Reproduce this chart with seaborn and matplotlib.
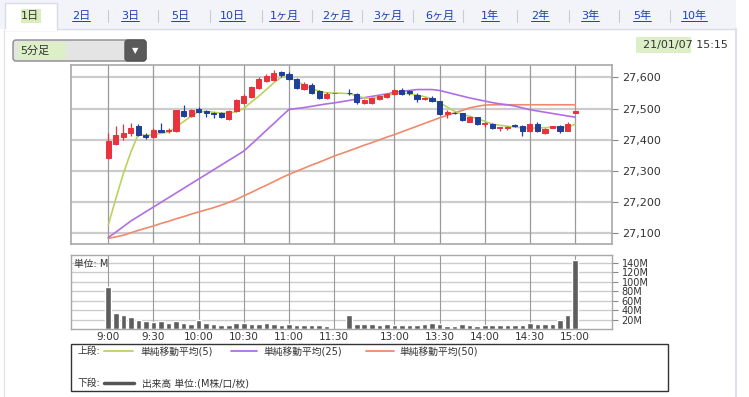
import numpy as np
import pandas as pd
import matplotlib
matplotlib.use("Agg")
import matplotlib.pyplot as plt
import seaborn as sns
from matplotlib.patches import Rectangle, FancyBboxPatch

# ---------------- data ----------------
times = ["9:00", "9:05", "9:10", "9:15", "9:20", "9:25", "9:30", "9:35", "9:40", "9:45",
         "9:50", "9:55", "10:00", "10:05", "10:10", "10:15", "10:20", "10:25", "10:30", "10:35",
         "10:40", "10:45", "10:50", "10:55", "11:00", "11:05", "11:10", "11:15", "11:20", "11:25",
         "11:30",
         "12:30", "12:35", "12:40", "12:45", "12:50", "12:55", "13:00", "13:05", "13:10", "13:15",
         "13:20", "13:25", "13:30", "13:35", "13:40", "13:45", "13:50", "13:55", "14:00", "14:05",
         "14:10", "14:15", "14:20", "14:25", "14:30", "14:35", "14:40", "14:45", "14:50", "14:55",
         "15:00"]

opens = [27341, 27387, 27409, 27422, 27443, 27416, 27408, 27431, 27427, 27429,
         27491, 27475, 27497, 27491, 27486, 27484, 27467, 27491, 27518, 27536,
         27567, 27590, 27593, 27617, 27612, 27596, 27564, 27575, 27556, 27534,
         27550,
         27551, 27547, 27518, 27518, 27531, 27536, 27547, 27561, 27556, 27545,
         27530, 27534, 27523, 27481, 27486, 27484, 27457, 27472, 27449, 27451,
         27437, 27437, 27446, 27443, 27427, 27449, 27422, 27438, 27443, 27429,
         27486]
highs = [27420, 27443, 27449, 27454, 27449, 27422, 27436, 27454, 27436, 27496,
         27510, 27500, 27505, 27496, 27490, 27490, 27496, 27530, 27547, 27572,
         27600, 27612, 27625, 27622, 27617, 27598, 27586, 27582, 27560, 27552,
         27550,
         27563, 27550, 27530, 27537, 27545, 27550, 27564, 27567, 27561, 27551,
         27536, 27540, 27525, 27495, 27490, 27486, 27476, 27474, 27458, 27454,
         27442, 27443, 27449, 27446, 27452, 27457, 27437, 27445, 27446, 27456,
         27493]
lows = [27338, 27384, 27400, 27411, 27410, 27403, 27405, 27424, 27420, 27424,
        27472, 27472, 27486, 27473, 27469, 27469, 27462, 27488, 27515, 27533,
        27564, 27584, 27588, 27602, 27592, 27563, 27558, 27548, 27530, 27532,
        27550,
        27545, 27515, 27515, 27513, 27528, 27533, 27545, 27545, 27543, 27521,
        27527, 27520, 27478, 27470, 27482, 27460, 27455, 27448, 27440, 27435,
        27428, 27432, 27440, 27413, 27424, 27423, 27419, 27436, 27420, 27427,
        27485]
closes = [27395, 27416, 27422, 27438, 27414, 27408, 27432, 27426, 27430, 27494,
          27475, 27495, 27490, 27484, 27481, 27473, 27491, 27527, 27540, 27568,
          27596, 27603, 27615, 27607, 27596, 27566, 27579, 27550, 27534, 27547,
          27550,
          27549, 27520, 27527, 27534, 27540, 27547, 27561, 27547, 27550, 27531,
          27533, 27523, 27481, 27488, 27484, 27462, 27473, 27451, 27453, 27438,
          27440, 27440, 27444, 27429, 27449, 27427, 27435, 27443, 27429, 27449,
          27491]

volume_m = [88, 34.5, 29, 25, 19, 16, 14, 16, 12, 16,
            13, 10.6, 19, 12, 10.6, 7.8, 9, 12, 12, 11.5,
            10, 12, 10.6, 9, 10.6, 8.5, 8.5, 8.5, 8.5, 7,
            np.nan,
            29, 10.6, 10.6, 10.6, 8.5, 10.6, 8.5, 7.8, 8.5, 9,
            10.6, 13, 10.6, 7, 7, 10.6, 9, 7, 9, 8.5,
            8.5, 8.5, 8.5, 8.5, 13, 10.6, 10.6, 10.6, 19, 30,
            146]

ma5 = [27125, 27210, 27290, 27360, 27418, 27413, 27416, 27420, 27424, 27440,
       27458, 27475, 27490, 27490, 27488, 27485, 27485, 27490, 27500, 27521,
       27540, 27561, 27583, 27601, 27601, 27588, 27575, 27564, 27556, 27550,
       27550,
       27548, 27540, 27534, 27532, 27538, 27542, 27547, 27550, 27547, 27543,
       27538, 27531, 27518, 27505, 27491, 27481, 27475, 27467, 27459, 27450,
       27446, 27443, 27440, 27438, 27436, 27438, 27438, 27440, 27440, 27438,
       27450]
ma25 = [27085, 27102, 27120, 27138, 27153, 27168, 27183, 27198, 27213, 27228,
        27243, 27258, 27273, 27288, 27303, 27318, 27333, 27348, 27363, 27385,
        27407, 27430, 27452, 27475, 27497, 27500, 27503, 27507, 27511, 27515,
        27518,
        27526, 27530, 27535, 27539, 27543, 27547, 27552, 27555, 27558, 27561,
        27561, 27561, 27558, 27552, 27546, 27540, 27534, 27529, 27524, 27519,
        27515, 27512, 27508, 27502, 27496, 27492, 27488, 27484, 27480, 27476,
        27472]
ma50 = [27082, 27087, 27092, 27100, 27108, 27115, 27122, 27130, 27137, 27145,
        27152, 27160, 27167, 27174, 27181, 27189, 27198, 27207, 27219, 27230,
        27242, 27253, 27265, 27277, 27288, 27298, 27308, 27318, 27327, 27337,
        27347,
        27364, 27373, 27382, 27390, 27399, 27408, 27416, 27425, 27434, 27443,
        27452, 27461, 27470, 27478, 27486, 27494, 27502, 27507, 27511, 27512,
        27512, 27512, 27512, 27512, 27512, 27512, 27512, 27512, 27512, 27512,
        27512]

grid_times = ["9:00", "9:30", "10:00", "10:30", "11:00", "11:30",
              "13:00", "13:30", "14:00", "14:30", "15:00"]
price_ticks = [27100, 27200, 27300, 27400, 27500, 27600]
vol_ticks = [20, 40, 60, 80, 100, 120, 140]

tabs = ["1日", "2日", "3日", "5日", "10日", "1ヶ月", "2ヶ月", "3ヶ月", "6ヶ月",
        "1年", "2年", "3年", "5年", "10年"]
legend_labels = ["単純移動平均(5)", "単純移動平均(25)", "単純移動平均(50)"]
vol_label = "出来高 単位:(M株/口/枚)"
period_label = "5分足"
stamp_date, stamp_time = "21/01/07", "15:15"

# ---------------- layout helpers ----------------
def slot(t):
    h, m = map(int, t.split(":"))
    mins = h * 60 + m
    if mins <= 11 * 60 + 30:
        return (mins - 9 * 60) / 5
    return (mins - (12 * 60 + 30)) / 5 + 32

df = pd.DataFrame(dict(time=times, open=opens, high=highs, low=lows, close=closes,
                       vol=volume_m, ma5=ma5, ma25=ma25, ma50=ma50))
df["x"] = df["time"].map(slot)
gx = [slot(t) for t in grid_times]

sns.set_theme(style="white")
plt.rcParams["font.family"] = ["DejaVu Sans", "Noto Sans CJK JP"]

W, H = 749, 397
fig = plt.figure(figsize=(W / 100, H / 100), dpi=100)
fig.patch.set_facecolor("white")

def fx(p): return p / W
def fy(p): return 1 - p / H

bg = fig.add_axes([0, 0, 1, 1], zorder=-5)
bg.set_xlim(0, W); bg.set_ylim(H, 0); bg.axis("off")

XL = (-4.95, 66.9)
RED, BLUE, DOJI = "#e8323c", "#1f3f99", "#777777"
C5, C25, C50 = "#b9d35e", "#b06ee4", "#ef8a6c"
HGRID, VGRID, SPINE = "#cccccc", "#9a9a9a", "#a8a8a8"
TXT = "#333333"

# ---------------- price panel ----------------
ax = fig.add_axes([fx(71), fy(244), fx(612) - fx(71), fy(65) - fy(244)])
ax.set_facecolor("white")
ax.set_xlim(*XL); ax.set_ylim(27064, 27640)
for p in price_ticks:
    ax.axhline(p, color=HGRID, lw=1.6, zorder=0)
for x in gx:
    ax.axvline(x, color=VGRID, lw=0.9, zorder=0)

sns.lineplot(data=df, x="x", y="ma50", ax=ax, color=C50, lw=1.2, zorder=2, legend=False)
sns.lineplot(data=df, x="x", y="ma25", ax=ax, color=C25, lw=1.2, zorder=2, legend=False)
sns.lineplot(data=df, x="x", y="ma5", ax=ax, color=C5, lw=1.2, zorder=2, legend=False)

cols = np.where(df["close"] > df["open"], RED,
                np.where(df["close"] < df["open"], BLUE, DOJI))
ax.vlines(df["x"], df["low"], df["high"], colors=cols, lw=0.9, zorder=3)
body_lo = np.minimum(df["open"], df["close"])
body_h = np.abs(df["close"] - df["open"])
ax.bar(df["x"], body_h, bottom=body_lo, width=0.68, color=cols, edgecolor=cols,
       linewidth=0.7, zorder=4)

ax.yaxis.tick_right()
ax.set_yticks(price_ticks)
ax.set_yticklabels([f"{p:,}" for p in price_ticks], fontsize=8, color=TXT)
ax.tick_params(axis="y", which="both", right=True, length=4, width=0.8,
               color="#888888", pad=3)
ax.set_xticks([])
ax.set_xlabel(""); ax.set_ylabel("")
for s in ax.spines.values():
    s.set_color(SPINE); s.set_linewidth(1.2)

# ---------------- volume panel ----------------
axv = fig.add_axes([fx(71), fy(329), fx(612) - fx(71), fy(255) - fy(329)])
axv.set_facecolor("white")
axv.set_xlim(*XL); axv.set_ylim(0, 156)
for v in vol_ticks:
    axv.axhline(v, color=HGRID, lw=1.0, zorder=0)
for x in gx:
    axv.axvline(x, color=VGRID, lw=0.8, zorder=0)
vd = df.dropna(subset=["vol"])
axv.bar(vd["x"], vd["vol"], width=0.74, color="#5e5e5e", zorder=2)
axv.yaxis.tick_right()
axv.set_yticks(vol_ticks)
axv.set_yticklabels([f"{v}M" for v in vol_ticks], fontsize=7, color=TXT)
axv.tick_params(axis="y", right=True, length=4, width=0.8, color="#888888", pad=3)
axv.set_xticks(gx)
axv.set_xticklabels(grid_times, fontsize=7.5, color=TXT)
axv.tick_params(axis="x", length=0, pad=2)
axv.set_xlabel(""); axv.set_ylabel("")
for s in axv.spines.values():
    s.set_color(SPINE); s.set_linewidth(1.0)
axv.text(0.006, 0.95, "単位: M", transform=axv.transAxes, fontsize=7,
         color=TXT, va="top", ha="left", zorder=5)

# ---------------- legend box ----------------
bg.add_patch(Rectangle((71, 344), 597, 47, fill=True, facecolor="white",
                       edgecolor="#333333", lw=1.0))
bg.text(77, 351, "上段:", fontsize=7, color=TXT, va="center")
for (x0, x1, tx), lab, c in zip([(104, 133, 140), (231, 257, 263), (366, 394, 399)],
                                legend_labels, [C5, C25, C50]):
    bg.plot([x0, x1], [351, 351], color=c, lw=1.3)
    bg.text(tx, 351, lab, fontsize=7, color=TXT, va="center")
bg.text(77, 383, "下段:", fontsize=7, color=TXT, va="center")
bg.plot([104, 134], [383, 383], color="#555555", lw=2.5)
bg.text(142, 383, vol_label, fontsize=7, color=TXT, va="center")

# ---------------- header ----------------
bg.add_patch(Rectangle((0, 0), 736, 29, facecolor="#f3f4f9", edgecolor="none"))
bg.plot([57, 736], [29, 29], color="#d8dbe8", lw=1)
bg.add_patch(Rectangle((5, 3), 52, 27, facecolor="white", edgecolor="#d8dbe8", lw=1))
bg.add_patch(Rectangle((5, 28.5), 52, 2, facecolor="white", edgecolor="none"))
bg.plot([3.5, 3.5], [29, 397], color="#e2e4ee", lw=1)
bg.plot([735.5, 735.5], [29, 397], color="#dcdff0", lw=1.5)

tab_x = [30, 81, 130, 180, 232, 284, 337, 388, 440, 490, 540, 590, 642, 694]
sep_x = [108, 158, 210, 262, 312, 362, 413, 463, 517, 569, 619, 670]
bg.add_patch(Rectangle((21, 9), 20, 14, facecolor="#d9edbf", edgecolor="none"))
tab_texts = []
for i, (t, x) in enumerate(zip(tabs, tab_x)):
    tt = bg.text(x, 16, t, fontsize=8, ha="center", va="center",
                 color=TXT if i == 0 else "#2040b0")
    tab_texts.append(tt)
for x in sep_x:
    bg.plot([x, x], [10, 22], color="#c8cbd8", lw=0.8)

# dropdown
bg.add_patch(FancyBboxPatch((13, 40), 133, 21, boxstyle="round,pad=0,rounding_size=3",
                            facecolor="#e4e4e4", edgecolor="#8a8a8a", lw=1))
bg.add_patch(Rectangle((18, 42), 48, 17, facecolor="#dcefc6", edgecolor="none"))
bg.add_patch(FancyBboxPatch((125, 40), 21, 21, boxstyle="round,pad=0,rounding_size=3",
                            facecolor="#5a5a5a", edgecolor="#555555", lw=1))
bg.text(135.5, 50.5, "▼", fontsize=6, color="white", ha="center", va="center")
bg.text(20, 51, period_label, fontsize=8, color=TXT, va="center", ha="left")

# date stamp
bg.add_patch(Rectangle((636, 37), 55, 16, facecolor="#dcefc6", edgecolor="none"))
bg.text(728, 45, f"{stamp_date} {stamp_time}", fontsize=8, color=TXT,
        ha="right", va="center")

# underline tab links
fig.canvas.draw()
inv = bg.transData.inverted()
for tt in tab_texts[1:]:
    bb = tt.get_window_extent()
    (x0, y0), (x1, y1) = inv.transform([(bb.x0, bb.y0), (bb.x1, bb.y1)])
    yl = max(y0, y1) - 0.5
    bg.plot([x0, x1], [yl, yl], color="#2040b0", lw=0.7)

fig.savefig("out.png", dpi=100)
